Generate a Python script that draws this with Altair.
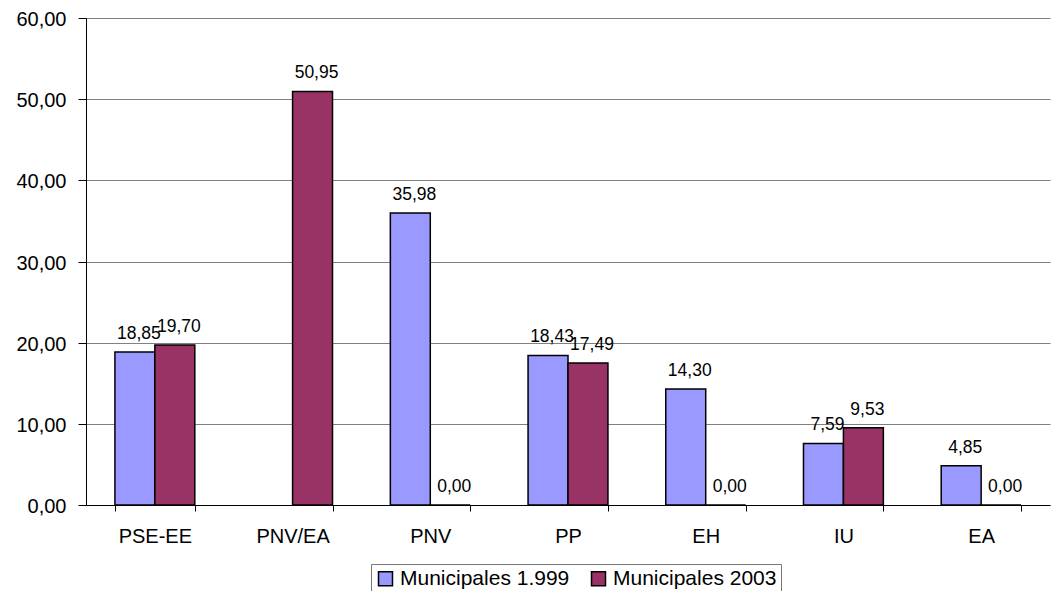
import altair as alt
import pandas as pd

categories = ["PSE-EE", "PNV/EA", "PNV", "PP", "EH", "IU", "EA"]
series = ["Municipales 1.999", "Municipales 2003"]
v1999 = [18.85, None, 35.98, 18.43, 14.30, 7.59, 4.85]
v2003 = [19.70, 50.95, 0.00, 17.49, 0.00, 9.53, 0.00]
colors = ["#9999FF", "#993366"]

rows = []
for c, a, b in zip(categories, v1999, v2003):
    rows.append({"cat": c, "serie": series[0], "val": a})
    rows.append({"cat": c, "serie": series[1], "val": b})
df = pd.DataFrame(rows)

FONT = "Liberation Sans"

x = alt.X("cat:N", sort=categories, title=None,
          scale=alt.Scale(paddingInner=0.42, paddingOuter=0.21),
          axis=alt.Axis(labelAngle=0, tickBand="extent", labelFontSize=20, labelFont=FONT,
                        labelColor="black", domainColor="black", tickColor="black",
                        tickSize=6, labelPadding=15, grid=False))
xo = alt.XOffset("serie:N", sort=series)
y = alt.Y("val:Q", title=None,
          scale=alt.Scale(domain=[0, 60], nice=False),
          axis=alt.Axis(values=[0, 10, 20, 30, 40, 50, 60],
                        labelExpr="replace(format(datum.value, '.2f'), '.', ',')",
                        labelFontSize=20, labelFont=FONT, labelColor="black",
                        domainColor="black", tickColor="black", tickSize=8,
                        labelPadding=12, labelOffset=1.5,
                        gridColor="#808080", gridWidth=1))

base = alt.Chart(df).transform_filter("datum.val != null")

bars = base.mark_bar(stroke="black", strokeWidth=1.5).encode(
    x=x, xOffset=xo, y=y,
    color=alt.Color("serie:N", sort=series, title=None,
                    scale=alt.Scale(domain=series, range=colors),
                    legend=alt.Legend(orient="none", legendX=285, legendY=546,
                                      direction="horizontal",
                                      symbolType="square", symbolSize=196,
                                      symbolStrokeColor="black", symbolStrokeWidth=1.5,
                                      symbolOpacity=1, labelLimit=0,
                                      labelFontSize=21, labelFont=FONT, labelColor="black",
                                      strokeColor="#777777", padding=4,
                                      columnPadding=18, labelOffset=4))
)

labels = base.transform_calculate(
    lbl="replace(format(datum.val, '.2f'), '.', ',')"
).mark_text(dy=-13, dx=4, baseline="alphabetic", fontSize=17.5, font=FONT, color="black").encode(
    x=x, xOffset=xo, y=y, text="lbl:N"
)

chart = (bars + labels).properties(
    width=964, height=487,
    autosize=alt.AutoSizeParams(type="none"),
    padding={"left": 78, "top": 10, "right": 3, "bottom": 86}
).configure_view(stroke=None)

chart.save("out.html", embed_options={"renderer": "svg", "actions": False})
